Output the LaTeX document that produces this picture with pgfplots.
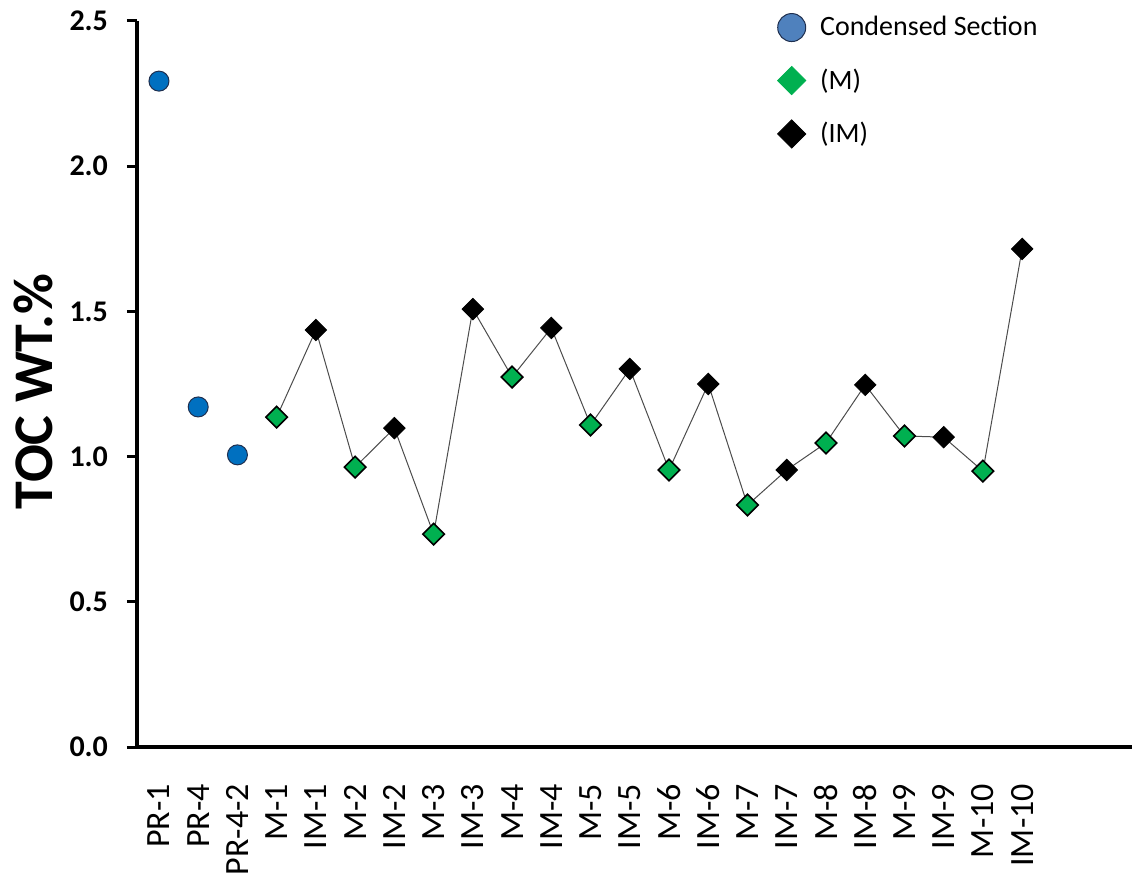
\documentclass[border=0pt]{standalone}
\usepackage{pgfplots}
\pgfplotsset{compat=1.18}
\usepackage{fontspec}
\setmainfont{Carlito}
\definecolor{bluept}{HTML}{0070C0}
\definecolor{bluelg}{HTML}{4F81BD}
\definecolor{greenpt}{HTML}{00B050}
\definecolor{edge}{HTML}{1F2F4F}
\begin{document}
\begin{tikzpicture}
\useasboundingbox (0,0) rectangle (567pt,437.5pt);
\begin{axis}[
  at={(68.5pt,64pt)}, anchor=south west,
  scale only axis,
  width=497.5pt, height=363pt,
  xmin=-0.56, xmax=24.8,
  ymin=0, ymax=2.5,
  axis x line=bottom, axis y line=left,
  axis line style={-, line width=2pt},
  ytick={0,0.5,1,1.5,2,2.5},
  yticklabel style={font=\fontsize{15}{18}\selectfont\bfseries, xshift=-6pt, /pgf/number format/.cd, fixed, precision=1, zerofill, assume math mode=true},
  tick align=outside,
  major tick length=5pt,
  y tick style={line width=1.5pt, black},
  xtick={0,...,22},
  x tick style={draw=none},
  xticklabels={PR-1,PR-4,PR-4-2,M-1,IM-1,M-2,IM-2,M-3,IM-3,M-4,IM-4,M-5,IM-5,M-6,IM-6,M-7,IM-7,M-8,IM-8,M-9,IM-9,M-10,IM-10},
  xticklabel style={rotate=90, anchor=east, font=\fontsize{17}{19}\selectfont, xshift=-10pt},
  ylabel={\bfseries TOC WT.\%},
  every axis y label/.style={at={(axis description cs:-0.104,0.49)}, rotate=90, anchor=center, font=\fontsize{28}{31}\selectfont},
  clip=false,
  legend style={draw=none, fill=none, at={(0.634,1.018)}, anchor=north west, font=\fontsize{14}{16}\selectfont, row sep=11pt, legend cell align=left},
  legend image code/.code={\draw[#1] plot coordinates {(0.3cm,0cm)}; \path (0cm,0cm) (0.3cm+12pt,0cm);},
]
\addlegendimage{only marks, mark=*, mark size=7pt, mark options={fill=bluelg, draw=edge, line width=0.5pt}}
\addlegendentry{Condensed Section}
\addlegendimage{only marks, mark=square*, mark size=5pt, mark options={rotate=45, fill=greenpt, draw=greenpt}}
\addlegendentry{(M)}
\addlegendimage{only marks, mark=square*, mark size=5pt, mark options={rotate=45, fill=black, draw=black}}
\addlegendentry{(IM)}
% connecting line
\addplot[forget plot, color=black!70, line width=0.5pt, no marks] coordinates {
(3,1.136) (4,1.436) (5,0.964) (6,1.098) (7,0.733) (8,1.508) (9,1.274) (10,1.443)
(11,1.109) (12,1.302) (13,0.954) (14,1.250) (15,0.833) (16,0.954) (17,1.047)
(18,1.247) (19,1.071) (20,1.067) (21,0.950) (22,1.715)};
% condensed section
\addplot[forget plot, only marks, mark=*, mark size=5pt, mark options={fill=bluept, draw=edge, line width=0.5pt}] coordinates {
(0,2.293) (1,1.171) (2,1.006)};
% M
\addplot[forget plot, only marks, mark=square*, mark size=3.8pt, mark options={rotate=45, fill=greenpt, draw=black, line width=0.8pt}] coordinates {
(3,1.136) (5,0.964) (7,0.733) (9,1.274) (11,1.109) (13,0.954) (15,0.833) (17,1.047) (19,1.071) (21,0.950)};
% IM
\addplot[forget plot, only marks, mark=square*, mark size=3.8pt, mark options={rotate=45, fill=black, draw=black}] coordinates {
(4,1.436) (6,1.098) (8,1.508) (10,1.443) (12,1.302) (14,1.250) (16,0.954) (18,1.247) (20,1.067) (22,1.715)};
\end{axis}
\end{tikzpicture}
\end{document}
